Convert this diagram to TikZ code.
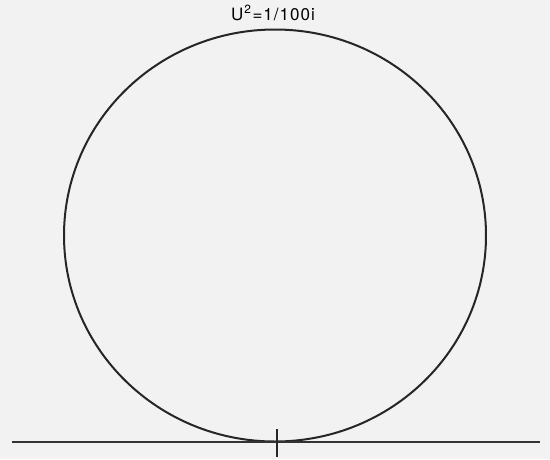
\documentclass[tikz,border=0pt]{standalone}
\usepackage{fontspec}
\setsansfont{TeX Gyre Heros}
\usetikzlibrary{positioning}

\begin{document}
\begin{tikzpicture}[x=1pt, y=-1pt,
     curve/.style={draw=black!85, line width=2pt},
     base/.style={draw=black!80, line width=2.2pt},
     lbl/.style={inner sep=0pt, font=\sffamily\fontsize{17}{19}\selectfont}]
   \useasboundingbox[fill=black!5] (0,0) rectangle (550,459);
   \coordinate (c) at (275,235.5);
   \draw[curve] (c) ellipse [x radius=211, y radius=206];
   \coordinate (bl) at (12,442);
   \coordinate (br) at (540,442);
   \draw[base] (bl) -- (br);
   \coordinate (t1) at (277,429);
   \coordinate (t2) at (277,457);
   \draw[curve, line width=1.2pt] (t1) -- (t2);
   \node[lbl] (u) at (273,13) {U\kern1pt$^{\mathsf{2}}$\kern1pt=\kern1pt1\kern1pt/\kern1pt1\kern1pt0\kern1pt0\kern1pt i};
\end{tikzpicture}
\end{document}
